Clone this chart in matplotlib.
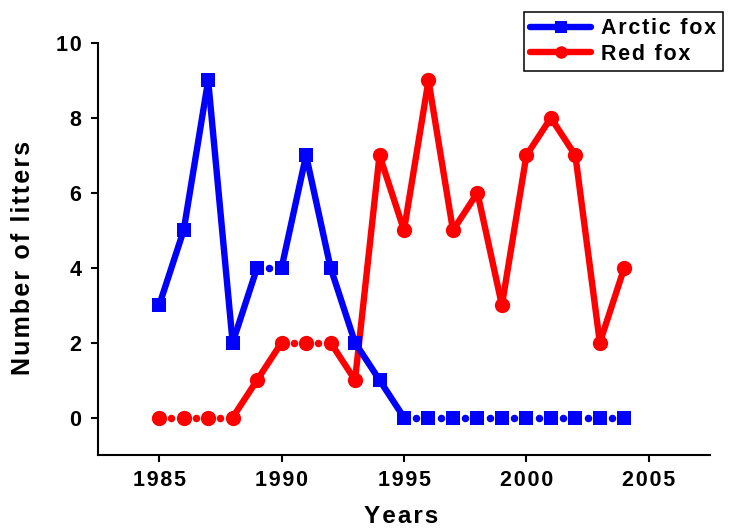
import numpy as np
import matplotlib
matplotlib.use("Agg")
import matplotlib.pyplot as plt
from matplotlib.lines import Line2D

years = list(range(1985, 2005))
arctic_fox = [3, 5, 9, 2, 4, 4, 7, 4, 2, 1, 0, 0, 0, 0, 0, 0, 0, 0, 0, 0]
red_fox = [0, 0, 0, 0, 1, 2, 2, 2, 1, 7, 5, 9, 5, 6, 3, 7, 8, 7, 2, 4]
x_ticks = [1985, 1990, 1995, 2000, 2005]
y_ticks = [0, 2, 4, 6, 8, 10]

HAIR = "\u200a"
def spaced(s, sp=HAIR):
    return sp.join(s)

FAM = ["Liberation Sans", "DejaVu Sans"]
plt.rcParams["font.family"] = FAM
plt.rcParams["font.weight"] = "bold"

fig = plt.figure(figsize=(7.3, 5.32), dpi=100)
ax = fig.add_axes([98/730, 77/532, 612/730, 412/532])

BLUE = "#0000ff"
RED = "#ff0000"
LW = 4.6

def draw_series(x, y, color, marker, ms, zorder):
    x = np.asarray(x, float)
    y = np.asarray(y, float)
    for i in range(len(x) - 1):
        if y[i] == y[i + 1]:
            ax.plot([(x[i] + x[i + 1]) / 2], [y[i]], marker="o", ms=4.4,
                    color=color, ls="none", zorder=zorder)
        else:
            ax.plot(x[i:i + 2], y[i:i + 2], color=color, lw=LW,
                    solid_capstyle="butt", zorder=zorder)
    ax.plot(x, y, marker=marker, ms=ms, color=color, ls="none",
            markeredgewidth=0, zorder=zorder + 0.5)

draw_series(years, red_fox, RED, "o", 11, 2)
draw_series(years, arctic_fox, BLUE, "s", 10.5, 3)

ax.set_xlim(1982.5, 2007.5)
ax.set_ylim(-1, 10)
ax.set_xticks(x_ticks)
ax.set_yticks(y_ticks)
ax.set_xticklabels([spaced(str(t)) for t in x_ticks])
ax.set_yticklabels([spaced(str(t)) for t in y_ticks])
for s in ["top", "right"]:
    ax.spines[s].set_visible(False)
for s in ["left", "bottom"]:
    ax.spines[s].set_linewidth(1.5)
ax.tick_params(direction="out", length=5, width=1.5, labelsize=15.5)
ax.tick_params(axis="x", pad=5.5)
ax.tick_params(axis="y", pad=7)
for lab in ax.get_xticklabels() + ax.get_yticklabels():
    lab.set_fontweight("bold")

ax.set_xlabel(spaced("Years"), fontsize=17.5, fontweight="bold")
ax.xaxis.set_label_coords(0.496, -0.149)
ax.xaxis.label.set_va("center")
ax.set_ylabel(spaced("Number of litters"), fontsize=18, fontweight="bold")
ax.yaxis.set_label_coords(-0.123, 0.479)
ax.yaxis.label.set_va("center")

handles = [
    Line2D([], [], color=BLUE, lw=LW, marker="s", ms=8, markeredgewidth=0,
           solid_capstyle="round"),
    Line2D([], [], color=RED, lw=LW, marker="o", ms=9, markeredgewidth=0,
           solid_capstyle="round"),
]
leg = fig.legend(handles, [spaced("Arctic fox"), spaced("Red fox")],
                 loc="upper right", bbox_to_anchor=(723/730, 1 - 12/532),
                 borderaxespad=0, frameon=True, fancybox=False,
                 edgecolor="black", framealpha=1, handlelength=2.8,
                 handletextpad=0.5, borderpad=0.3, labelspacing=0.2,
                 prop={"family": FAM, "weight": "bold", "size": 15.5})
leg.get_frame().set_linewidth(1.1)

fig.savefig("out.png", dpi=100)
